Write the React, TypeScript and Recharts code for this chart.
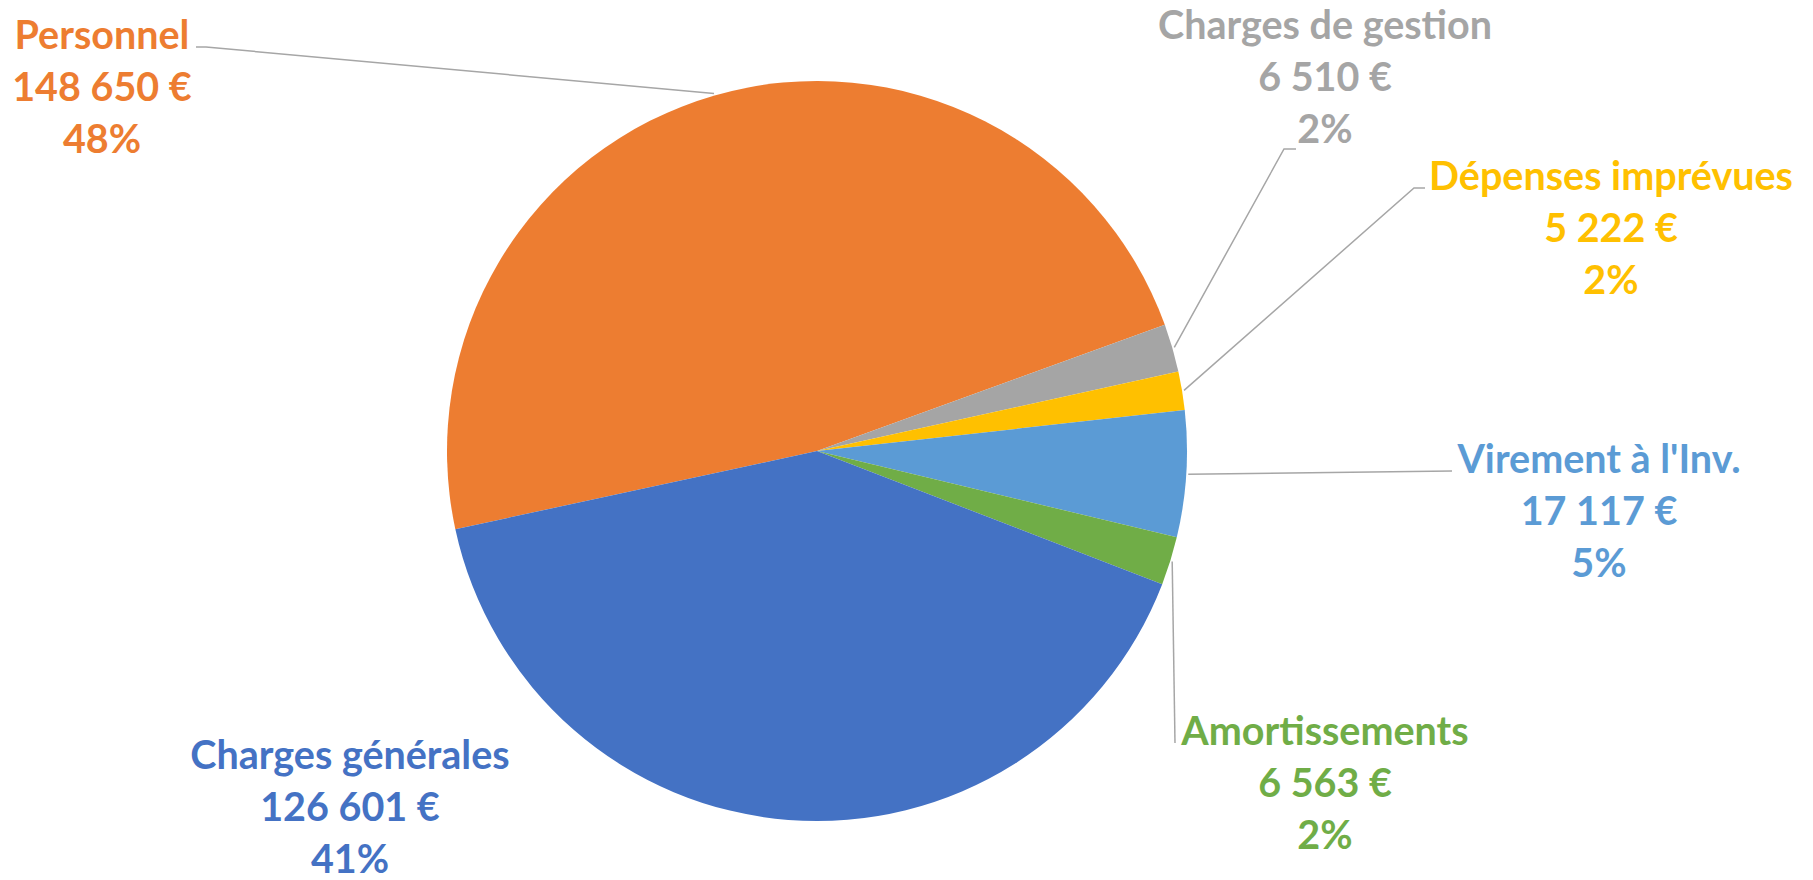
import { Cell, Pie, PieChart } from "recharts"

const names = [
  "Personnel",
  "Charges de gestion",
  "Dépenses imprévues",
  "Virement à l'Inv.",
  "Amortissements",
  "Charges générales",
]
const amounts = [148650, 6510, 5222, 17117, 6563, 126601]
const percents = ["48%", "2%", "2%", "5%", "2%", "41%"]
const colors = ["#ED7D31", "#A5A5A5", "#FFC000", "#5B9BD5", "#70AD47", "#4472C4"]

const data = names.map((name, i) => ({ name, value: amounts[i] }))

// where each label sits and the leader line path from the slice toward it
const spots = [
  { x: 102, y: 49, path: [[206, 47], [196, 47]] },
  { x: 1325, y: 39, path: [[1284, 149], [1296, 149]] },
  { x: 1611, y: 190, path: [[1414, 188], [1425, 188]] },
  { x: 1599, y: 473, path: [[1452, 471]] },
  { x: 1325, y: 745, path: [[1175, 743]] },
  { x: 350, y: 769, path: [] as number[][] },
]

const euro = (v: number) => v.toString().replace(/\B(?=(\d{3})+(?!\d))/g, " ") + " €"

const RAD = Math.PI / 180

function SliceLabel(props: any) {
  const { cx, cy, midAngle, outerRadius, index } = props
  const spot = spots[index]
  const r = outerRadius + 2
  const ex = cx + r * Math.cos(-midAngle * RAD)
  const ey = cy + r * Math.sin(-midAngle * RAD)
  const pts = [[ex, ey], ...spot.path]
  return (
    <g>
      {spot.path.length > 0 && (
        <polyline
          points={pts.map((p) => p.join(",")).join(" ")}
          fill="none"
          stroke="#A6A6A6"
          strokeWidth={1.5}
        />
      )}
      <text
        x={spot.x}
        y={spot.y}
        textAnchor="middle"
        fill={colors[index]}
        fontFamily="Lato, sans-serif"
        fontWeight={700}
        fontSize={39.5}
      >
        <tspan x={spot.x}>{names[index]}</tspan>
        <tspan x={spot.x} dy={52}>{euro(amounts[index])}</tspan>
        <tspan x={spot.x} dy={52}>{percents[index]}</tspan>
      </text>
    </g>
  )
}

export default function App() {
  return (
    <div>
      <style>{`
        body { margin: 0; }
        .recharts-surface { overflow: visible; }
        .recharts-pie-sectors { filter: drop-shadow(0 2px 4px rgba(0,0,0,0.3)); }
      `}</style>
      <PieChart width={1813} height={880} margin={{ top: 0, right: 0, bottom: 0, left: 0 }}>
        <Pie
          data={data}
          dataKey="value"
          nameKey="name"
          cx={817}
          cy={451}
          outerRadius={370}
          startAngle={-167.8}
          endAngle={-527.8}
          stroke="none"
          label={SliceLabel}
          labelLine={false}
          isAnimationActive={false}
        >
          {data.map((d, i) => (
            <Cell key={d.name} fill={colors[i]} />
          ))}
        </Pie>
      </PieChart>
    </div>
  )
}
